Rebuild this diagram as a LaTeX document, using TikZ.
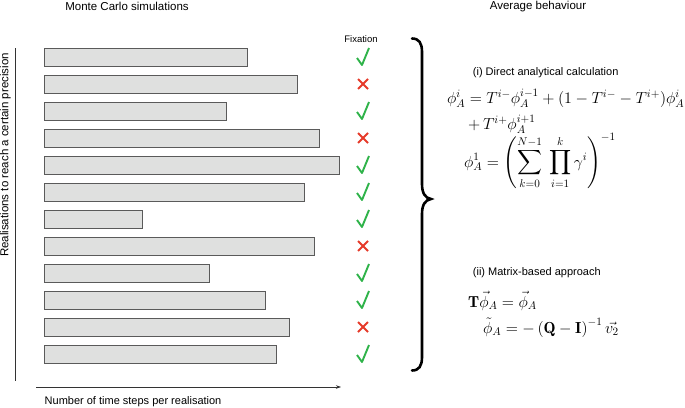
\RequirePackage{fix-cm}
\documentclass[tikz,border=0pt]{standalone}
\usepackage{amsmath}
\usepackage{fontspec}
\newfontfamily\hv{Liberation Sans}
\usetikzlibrary{arrows.meta}
\definecolor{okgreen}{HTML}{2FB34A}
\definecolor{badred}{HTML}{E63A2A}
\definecolor{barfill}{HTML}{DFE0DF}
\definecolor{barline}{HTML}{5A5A5A}
\tikzset{
  bar/.style={draw=barline, fill=barfill, line width=0.9pt},
  lbl/.style={font=\hv\fontsize{11}{13}\selectfont, inner sep=0pt},
  ttl/.style={font=\hv\fontsize{11.5}{13}\selectfont, inner sep=0pt},
  eq/.style={font=\fontsize{16}{19}\selectfont, inner sep=0pt, anchor=base west},
  axisline/.style={draw=black!80, line width=0.6pt},
  chk/.pic={\draw[okgreen, line width=1.9pt, line join=round] (-6,1) -- (-1,8) -- (6,-9);},
  crs/.pic={\draw[badred, line width=1.8pt] (-5,-5) -- (5,5) (-5,5) -- (5,-5);}
}
\begin{document}
\begin{tikzpicture}[x=1pt,y=-1pt]
\useasboundingbox (0,0) rectangle (685,407);
% titles
\node[ttl, anchor=base] (mc) at (127,10) {Monte Carlo simulations};
\node[ttl, anchor=base] (ab) at (538,9) {Average behaviour};
\node[font=\hv\fontsize{9.5}{11}\selectfont, inner sep=0pt, anchor=base] (fix) at (361,42) {Fixation};
% bars
\foreach \r/\len in {1/247,2/297,3/226,4/319,5/339,6/304,7/142,8/314,9/209,10/265,11/289,12/276}{
  \draw[bar] (44,{21+27*\r}) rectangle (\len,{39+27*\r});
}
% marks
\foreach \r/\m in {1/chk,2/crs,3/chk,4/crs,5/chk,6/chk,7/chk,8/crs,9/chk,10/chk,11/crs,12/chk}{
  \pic at (363,{30+27*\r}) {\m};
}
% axes
\coordinate (vt) at (15,48);
\coordinate (vb) at (15,381);
\draw[axisline] (vt) -- (vb);
\coordinate (hs) at (36,387);
\coordinate (he) at (341,387);
\draw[axisline, -{Stealth[length=5pt,width=3.5pt]}] (hs) -- (he);
\node[lbl, anchor=base west] (xl) at (44.5,404) {Number of time steps per realisation};
\node[ttl, anchor=base, rotate=90] (yl) at (8.5,155) {Realisations to reach a certain precision};
% brace
\draw[line width=2.6pt, line cap=round]
  (412,38.5) .. controls (419,38.5) and (422,43) .. (422,52)
  -- (422,184) .. controls (422,193) and (425,198) .. (431,199)
  .. controls (425,200) and (422,205) .. (422,214)
  -- (422,357) .. controls (422,366) and (419,370.5) .. (412,370.5);
% right side
\node[lbl, anchor=base west] (t1) at (472.7,75) {(i) Direct analytical calculation};
\node[eq] (e1) at (447,103) {$\phi_A^i = T^{i-}\phi_A^{i-1} + (1-T^{i-}-T^{i+})\phi_A^i$};
\node[eq] (e2) at (468,129) {$+\,T^{i+}\phi_A^{i+1}$};
\node[eq] (e3) at (464,167) {$\displaystyle \phi_A^1 = \left(\sum_{k=0}^{N-1}\;\prod_{i=1}^{k}\gamma^i\right)^{-1}$};
\node[lbl, anchor=base west] (t2) at (472.7,275) {(ii) Matrix-based approach};
\node[eq] (e4) at (468,307) {$\mathbf{T}\vec{\phi}_A = \vec{\phi}_A$};
\node[eq] (e5) at (483,333) {$\tilde{\phi}_A = -\left(\mathbf{Q}-\mathbf{I}\right)^{-1}\vec{v_2}$};
\end{tikzpicture}
\end{document}
